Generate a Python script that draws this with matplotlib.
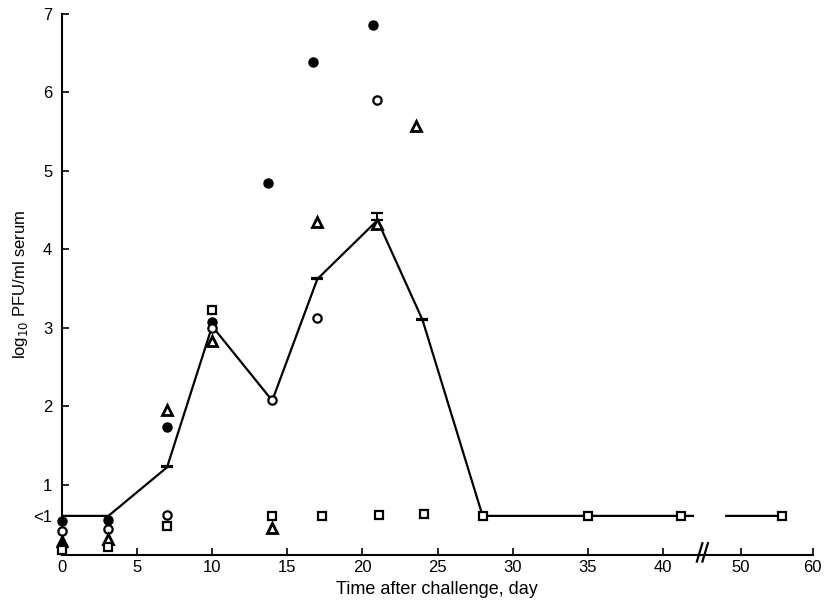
import numpy as np
import matplotlib
matplotlib.use('Agg')
import matplotlib.pyplot as plt

plt.rcParams['font.family'] = ['Liberation Sans', 'DejaVu Sans']

# mean curve (NaN = axis break gap)
mean_days = [0, 3.1, 7, 10, 14, 17, 21, 24, 28, 35, 41, 42, np.nan, 48, 56]
mean_vals = [0.6, 0.6, 1.22, 3.02, 2.07, 3.62, 4.37, 3.1, 0.6, 0.6, 0.6, 0.6, np.nan, 0.6, 0.6]
err_days = [7, 17, 21, 24]
err_vals = [1.22, 3.62, 4.37, 3.1]
err_up = [0.01, 0.01, 0.09, 0.01]

# individual animals
fc_days = [0, 3.1, 7, 10, 13.7, 16.7, 20.7]
fc_vals = [0.53, 0.55, 1.73, 3.07, 4.84, 6.39, 6.86]
oc_days = [0, 3.1, 7, 10, 14, 17, 21]
oc_vals = [0.41, 0.43, 0.61, 3.0, 2.08, 3.12, 5.9]
tri_days = [3.1, 7, 10, 14, 17, 21, 23.6]
tri_vals = [0.31, 1.95, 2.83, 0.45, 4.35, 4.32, 5.57]
ftri_days = [0]
ftri_vals = [0.28]
sq_days = [0, 3.1, 7, 10, 14, 17.3, 21.1, 24.1, 28, 35, 41.2, 55.7]
sq_vals = [0.17, 0.2, 0.47, 3.22, 0.6, 0.6, 0.61, 0.62, 0.6, 0.6, 0.6, 0.6]

xticks = [0, 5, 10, 15, 20, 25, 30, 35, 40, 50, 60]
yticks = [0.6, 1, 2, 3, 4, 5, 6, 7]
ylabels = ['<1', '1', '2', '3', '4', '5', '6', '7']

# broken x axis: 0-42 full scale, 48-60 compressed
bx = [-100, 0, 42, 48, 60, 200]
bu = [-1503, 0, 631.3, 664.6, 751.0, 1759.0]
def fwd(x):
    return np.interp(x, bx, bu)
def inv(u):
    return np.interp(u, bu, bx)

fig = plt.figure(figsize=(8.25, 6.12), dpi=100)
ax = fig.add_axes([0.075, 0.093, 0.91, 0.884])
ax.set_xscale('function', functions=(fwd, inv))

ax.plot(mean_days, mean_vals, 'k-', lw=1.6)
ax.errorbar(err_days, err_vals, yerr=[np.zeros(4), err_up], fmt='none',
            ecolor='k', elinewidth=1.4, capsize=4, capthick=1.6)

ax.plot(fc_days, fc_vals, 'o', color='k', ms=6.5, ls='none', clip_on=False, zorder=4)
ax.plot(oc_days, oc_vals, 'o', mfc='white', mec='k', mew=1.6, ms=6, ls='none', clip_on=False, zorder=4)
ax.plot(tri_days, tri_vals, '^', mfc='white', mec='k', mew=2, ms=6.5, ls='none', clip_on=False, zorder=4)
ax.plot(ftri_days, ftri_vals, '^', color='k', ms=8, ls='none', clip_on=False, zorder=4)
ax.plot(sq_days, sq_vals, 's', mfc='white', mec='k', mew=1.6, ms=5.5, ls='none', clip_on=False, zorder=4)

ax.set_xlim(0, 60)
ax.set_ylim(0.1, 7.0)
ax.set_xticks(xticks)
ax.set_xticklabels([str(t) for t in xticks])
ax.set_yticks(yticks)
ax.set_yticklabels(ylabels)
ax.tick_params(direction='in', length=5, width=1.2, labelsize=12)
ax.tick_params(axis='y', pad=7)
ax.spines['top'].set_visible(False)
ax.spines['right'].set_visible(False)
ax.spines['left'].set_linewidth(1.5)
ax.spines['bottom'].set_linewidth(1.5)

# break marks on x axis
tr = ax.get_xaxis_transform()
for xb in [43.2, 44.2]:
    ax.plot([xb - 0.5, xb + 0.5], [-0.012, 0.022], color='k', lw=1.6,
            transform=tr, clip_on=False)

ax.set_xlabel('Time after challenge, day', fontsize=13, labelpad=4)
ax.set_ylabel('log$_{10}$ PFU/ml serum', fontsize=12, labelpad=2)

fig.savefig('out.png', dpi=100)
